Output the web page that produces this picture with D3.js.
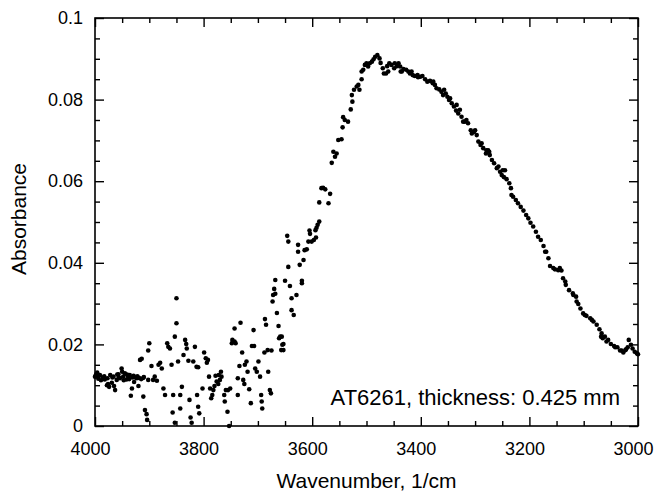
<!DOCTYPE html>
<html>
<head>
<meta charset="utf-8">
<script src="https://cdn.jsdelivr.net/npm/d3@7"></script>
<style>
  body { margin: 0; background: #fff; }
  svg { display: block; }
  text { font-family: "Liberation Sans", Arial, Helvetica, sans-serif; fill: #000; }
</style>
</head>
<body>
<script>
// Spectrum readings (wavenumber in 1/cm, absorbance)
const wavenumber = [
  4000, 3998, 3996, 3994, 3993, 3991, 3989, 3986, 3983, 3982, 3978, 3977, 3976, 3974, 3972, 3969,
  3968, 3966, 3965, 3963, 3960, 3959, 3957, 3956, 3954, 3951, 3950, 3948, 3947, 3945, 3942, 3941,
  3939, 3937, 3936, 3934, 3932, 3931, 3929, 3928, 3926, 3923, 3922, 3920, 3919, 3917, 3915, 3914,
  3911, 3911, 3910, 3908, 3905, 3904, 3902, 3902, 3900, 3896, 3893, 3890, 3886, 3883, 3880, 3877,
  3874, 3871, 3867, 3865, 3862, 3859, 3857, 3856, 3853, 3853, 3850, 3850, 3847, 3843, 3843, 3840,
  3837, 3834, 3832, 3831, 3828, 3826, 3824, 3822, 3819, 3816, 3813, 3812, 3810, 3810, 3808, 3802,
  3799, 3796, 3794, 3792, 3790, 3788, 3786, 3784, 3782, 3780, 3778, 3776, 3773, 3772, 3770, 3768,
  3767, 3762, 3761, 3759, 3756, 3755, 3753, 3751, 3748, 3747, 3743, 3743, 3741, 3737, 3737, 3734,
  3732, 3729, 3727, 3725, 3724, 3721, 3719, 3716, 3713, 3711, 3708, 3707, 3705, 3702, 3699, 3696,
  3694, 3693, 3692, 3688, 3687, 3685, 3682, 3681, 3678, 3676, 3675, 3673, 3672, 3670, 3668, 3668,
  3665, 3662, 3661, 3659, 3657, 3656, 3655, 3653, 3653, 3650, 3646, 3644, 3644, 3641, 3638, 3638,
  3634, 3629, 3626, 3626, 3623, 3619, 3619, 3616, 3614, 3610, 3607, 3605, 3604, 3601, 3597, 3594,
  3593, 3592, 3590, 3587, 3587, 3583, 3580, 3576, 3570, 3567, 3564, 3561, 3558, 3555, 3552, 3546,
  3544, 3543, 3540, 3534, 3529, 3527, 3526, 3523, 3518, 3515, 3513, 3509, 3509, 3506, 3503, 3500,
  3497, 3494, 3490, 3487, 3484, 3480, 3476, 3474, 3470, 3468, 3464,
  3462, 3460, 3458, 3454, 3449, 3448, 3444, 3441,
  3438, 3437, 3435, 3432, 3427, 3423, 3420, 3417,
  3415, 3411, 3406, 3405, 3401, 3397, 3392, 3388,
  3383, 3378, 3377, 3374, 3371, 3366, 3362, 3359,
  3357, 3354, 3351, 3348, 3346, 3343, 3339, 3335,
  3334, 3331, 3328, 3325, 3322, 3319, 3316, 3313,
  3308, 3306, 3302, 3300, 3297, 3294, 3290, 3288,
  3285, 3280, 3279, 3276, 3274, 3273, 3269, 3265,
  3260, 3257, 3254, 3251, 3249, 3247, 3245, 3242,
  3237, 3234, 3233, 3230, 3225, 3221, 3216, 3211,
  3206, 3202, 3198, 3193, 3188, 3184, 3179, 3174,
  3171, 3169, 3165, 3162, 3156, 3153, 3147, 3144,
  3141, 3138, 3134, 3133, 3127, 3120, 3119, 3114,
  3113, 3110, 3106, 3101, 3098, 3095, 3088, 3085,
  3082, 3076, 3071, 3068, 3067, 3065, 3061, 3058,
  3055, 3050, 3044, 3042, 3038, 3033, 3030, 3027,
  3023, 3022, 3019, 3017, 3013, 3010, 3006, 3002, 3000
]

const absorbance = [
  0.0121, 0.0126, 0.0131, 0.0116, 0.0124, 0.0125, 0.0112, 0.0119, 0.0122, 0.0114, 0.0100, 0.0117, 0.0103, 0.0096, 0.0125, 0.0106,
  0.0119, 0.0121, 0.0098, 0.0088, 0.0113, 0.0126, 0.0127, 0.0119, 0.0117, 0.0141, 0.0133, 0.0121, 0.0112, 0.0129, 0.0114, 0.0126,
  0.0121, 0.0115, 0.0125, 0.0074, 0.0092, 0.0119, 0.0123, 0.0108, 0.0119, 0.0117, 0.0122, 0.0098, 0.0118, 0.0162, 0.0115, 0.0165,
  0.0072, 0.0118, 0.0120, 0.0039, 0.0029, 0.0015, 0.0113, 0.0185, 0.0203, 0.0147, 0.0113, 0.0121, 0.0111, 0.0150, 0.0155, 0.0141,
  0.0092, 0.0076, 0.0203, 0.0194, 0.0190, 0.0150, 0.0033, 0.0076, 0.0008, 0.0219, 0.0313, 0.0252, 0.0158, 0.0043, 0.0076, 0.0096,
  0.0174, 0.0211, 0.0201, 0.0190, 0.0160, 0.0064, 0.0021, 0.0008, 0.0158, 0.0194, 0.0145, 0.0076, 0.0047, 0.0144, 0.0031, 0.0092,
  0.0180, 0.0166, 0.0155, 0.0162, 0.0121, 0.0092, 0.0068, 0.0076, 0.0088, 0.0098, 0.0123, 0.0109, 0.0103, 0.0125, 0.0113, 0.0133,
  0.0121, 0.0076, 0.0060, 0.0088, 0.0035, 0.0088, 0.0000, 0.0092, 0.0203, 0.0211, 0.0207, 0.0239, 0.0203, 0.0117, 0.0076, 0.0147,
  0.0253, 0.0180, 0.0113, 0.0103, 0.0150, 0.0158, 0.0133, 0.0090, 0.0056, 0.0196, 0.0235, 0.0196, 0.0141, 0.0133, 0.0158, 0.0121,
  0.0076, 0.0060, 0.0043, 0.0180, 0.0262, 0.0248, 0.0186, 0.0133, 0.0088, 0.0080, 0.0185, 0.0305, 0.0321, 0.0336, 0.0358, 0.0324,
  0.0277, 0.0245, 0.0215, 0.0219, 0.0186, 0.0219, 0.0199, 0.0186, 0.0201, 0.0356, 0.0466, 0.0452, 0.0390, 0.0343, 0.0313, 0.0284,
  0.0272, 0.0321, 0.0444, 0.0427, 0.0395, 0.0356, 0.0350, 0.0407, 0.0431, 0.0433, 0.0452, 0.0479, 0.0471, 0.0452, 0.0456, 0.0480,
  0.0462, 0.0486, 0.0493, 0.0501, 0.0548, 0.0583, 0.0584, 0.0580, 0.0546, 0.0569, 0.0645, 0.0672, 0.0660, 0.0668, 0.0701, 0.0703,
  0.0732, 0.0757, 0.0750, 0.0746, 0.0776, 0.0811, 0.0795, 0.0824, 0.0832, 0.0836, 0.0824, 0.0850, 0.0869, 0.0873, 0.0885, 0.0889,
  0.0881, 0.0889, 0.0893, 0.0899, 0.0905, 0.0909, 0.0901, 0.0890, 0.0877, 0.0864, 0.0864,
  0.0882, 0.0869, 0.0889, 0.0885, 0.0877, 0.0889, 0.0882, 0.0889,
  0.0881, 0.0869, 0.0869, 0.0875, 0.0873, 0.0869, 0.0864, 0.0869,
  0.0860, 0.0858, 0.0860, 0.0855, 0.0856, 0.0858, 0.0850, 0.0844,
  0.0846, 0.0840, 0.0844, 0.0836, 0.0828, 0.0825, 0.0819, 0.0811,
  0.0824, 0.0815, 0.0807, 0.0799, 0.0803, 0.0791, 0.0783, 0.0773,
  0.0787, 0.0766, 0.0775, 0.0758, 0.0746, 0.0746, 0.0750, 0.0742,
  0.0725, 0.0717, 0.0721, 0.0725, 0.0713, 0.0697, 0.0689, 0.0693,
  0.0681, 0.0668, 0.0676, 0.0676, 0.0672, 0.0664, 0.0652, 0.0644,
  0.0632, 0.0636, 0.0623, 0.0615, 0.0627, 0.0610, 0.0627, 0.0605,
  0.0595, 0.0583, 0.0566, 0.0562, 0.0554, 0.0546, 0.0537, 0.0528,
  0.0517, 0.0509, 0.0498, 0.0489, 0.0476, 0.0464, 0.0456, 0.0441,
  0.0427, 0.0427, 0.0411, 0.0392, 0.0387, 0.0384, 0.0382, 0.0387,
  0.0381, 0.0362, 0.0354, 0.0346, 0.0333, 0.0325, 0.0321, 0.0317,
  0.0305, 0.0299, 0.0288, 0.0276, 0.0272, 0.0270, 0.0264, 0.0260,
  0.0256, 0.0248, 0.0237, 0.0219, 0.0227, 0.0215, 0.0219, 0.0207,
  0.0211, 0.0201, 0.0196, 0.0193, 0.0193, 0.0185, 0.0185, 0.0180,
  0.0186, 0.0188, 0.0193, 0.0211, 0.0199, 0.0190, 0.0182, 0.0178, 0.0176
]

// Axis ticks and labels
const xMajorTicks = [4000, 3800, 3600, 3400, 3200, 3000]
const xTickLabels = ['4000', '3800', '3600', '3400', '3200', '3000']
const xMinorTicks = [3950, 3900, 3850, 3750, 3700, 3650, 3550, 3500, 3450, 3350, 3300, 3250, 3150, 3100, 3050]
const yMajorTicks = [0, 0.02, 0.04, 0.06, 0.08, 0.1]
const yTickLabels = ['0', '0.02', '0.04', '0.06', '0.08', '0.1']
const yMinorTicks = [0.005, 0.01, 0.015, 0.025, 0.03, 0.035, 0.045, 0.05, 0.055, 0.065, 0.07, 0.075, 0.085, 0.09, 0.095]

const width = 657
const height = 496
const plotLeft = 95
const plotRight = 638
const plotTop = 18
const plotBottom = 426

const svg = d3.select('body')
  .append('svg')
  .attr('width', width)
  .attr('height', height)

const xScale = d3.scaleLinear()
  .domain([4000, 3000])
  .range([plotLeft, plotRight])
const yScale = d3.scaleLinear()
  .domain([0, 0.1])
  .range([plotBottom, plotTop])

const major = 9
const minor = 5

function drawAxis(axis, transform, showLabels) {
  const g = svg.append('g')
    .attr('transform', transform)
    .call(axis)
  g.select('.domain').remove()
  g.selectAll('line').attr('stroke', '#000').attr('stroke-width', 1.4)
  if (!showLabels) g.selectAll('text').remove()
  return g
}

// Bottom axis with labels
const xBottom = drawAxis(
  d3.axisBottom(xScale).tickValues(xMajorTicks).tickSize(-major).tickPadding(16)
    .tickFormat((d, i) => xTickLabels[i]),
  `translate(0,${plotBottom})`, true)
xBottom.selectAll('text')
  .attr('font-size', 18)
  .attr('dx', -5)
drawAxis(d3.axisBottom(xScale).tickValues(xMinorTicks).tickSize(-minor).tickFormat(''),
  `translate(0,${plotBottom})`, false)

// Top axis
drawAxis(d3.axisTop(xScale).tickValues(xMajorTicks).tickSize(-major), `translate(0,${plotTop})`, false)
drawAxis(d3.axisTop(xScale).tickValues(xMinorTicks).tickSize(-minor), `translate(0,${plotTop})`, false)

// Left axis with labels
const yLeft = drawAxis(
  d3.axisLeft(yScale).tickValues(yMajorTicks).tickSize(-major).tickPadding(12)
    .tickFormat((d, i) => yTickLabels[i]),
  `translate(${plotLeft},0)`, true)
yLeft.selectAll('text')
  .attr('font-size', 18)
drawAxis(d3.axisLeft(yScale).tickValues(yMinorTicks).tickSize(-minor).tickFormat(''),
  `translate(${plotLeft},0)`, false)

// Right axis
drawAxis(d3.axisRight(yScale).tickValues(yMajorTicks).tickSize(-major), `translate(${plotRight},0)`, false)
drawAxis(d3.axisRight(yScale).tickValues(yMinorTicks).tickSize(-minor), `translate(${plotRight},0)`, false)

// Frame
svg.append('rect')
  .attr('x', plotLeft)
  .attr('y', plotTop)
  .attr('width', plotRight - plotLeft)
  .attr('height', plotBottom - plotTop)
  .attr('fill', 'none')
  .attr('stroke', '#000')
  .attr('stroke-width', 1.6)

// Points
svg.append('g')
  .selectAll('circle')
  .data(wavenumber)
  .enter()
  .append('circle')
  .attr('cx', d => xScale(d))
  .attr('cy', (d, i) => yScale(absorbance[i]))
  .attr('r', 2.3)
  .attr('fill', '#000')

// Axis titles
svg.append('text')
  .attr('x', (plotLeft + plotRight) / 2)
  .attr('y', 488)
  .attr('text-anchor', 'middle')
  .attr('font-size', 21)
  .text('Wavenumber, 1/cm')

svg.append('text')
  .attr('transform', 'translate(26,219) rotate(-90)')
  .attr('text-anchor', 'middle')
  .attr('font-size', 21)
  .text('Absorbance')

// Sample note
svg.append('text')
  .attr('x', 620)
  .attr('y', 405)
  .attr('text-anchor', 'end')
  .attr('font-size', 22)
  .text('AT6261, thickness: 0.425 mm')
</script>
</body>
</html>
